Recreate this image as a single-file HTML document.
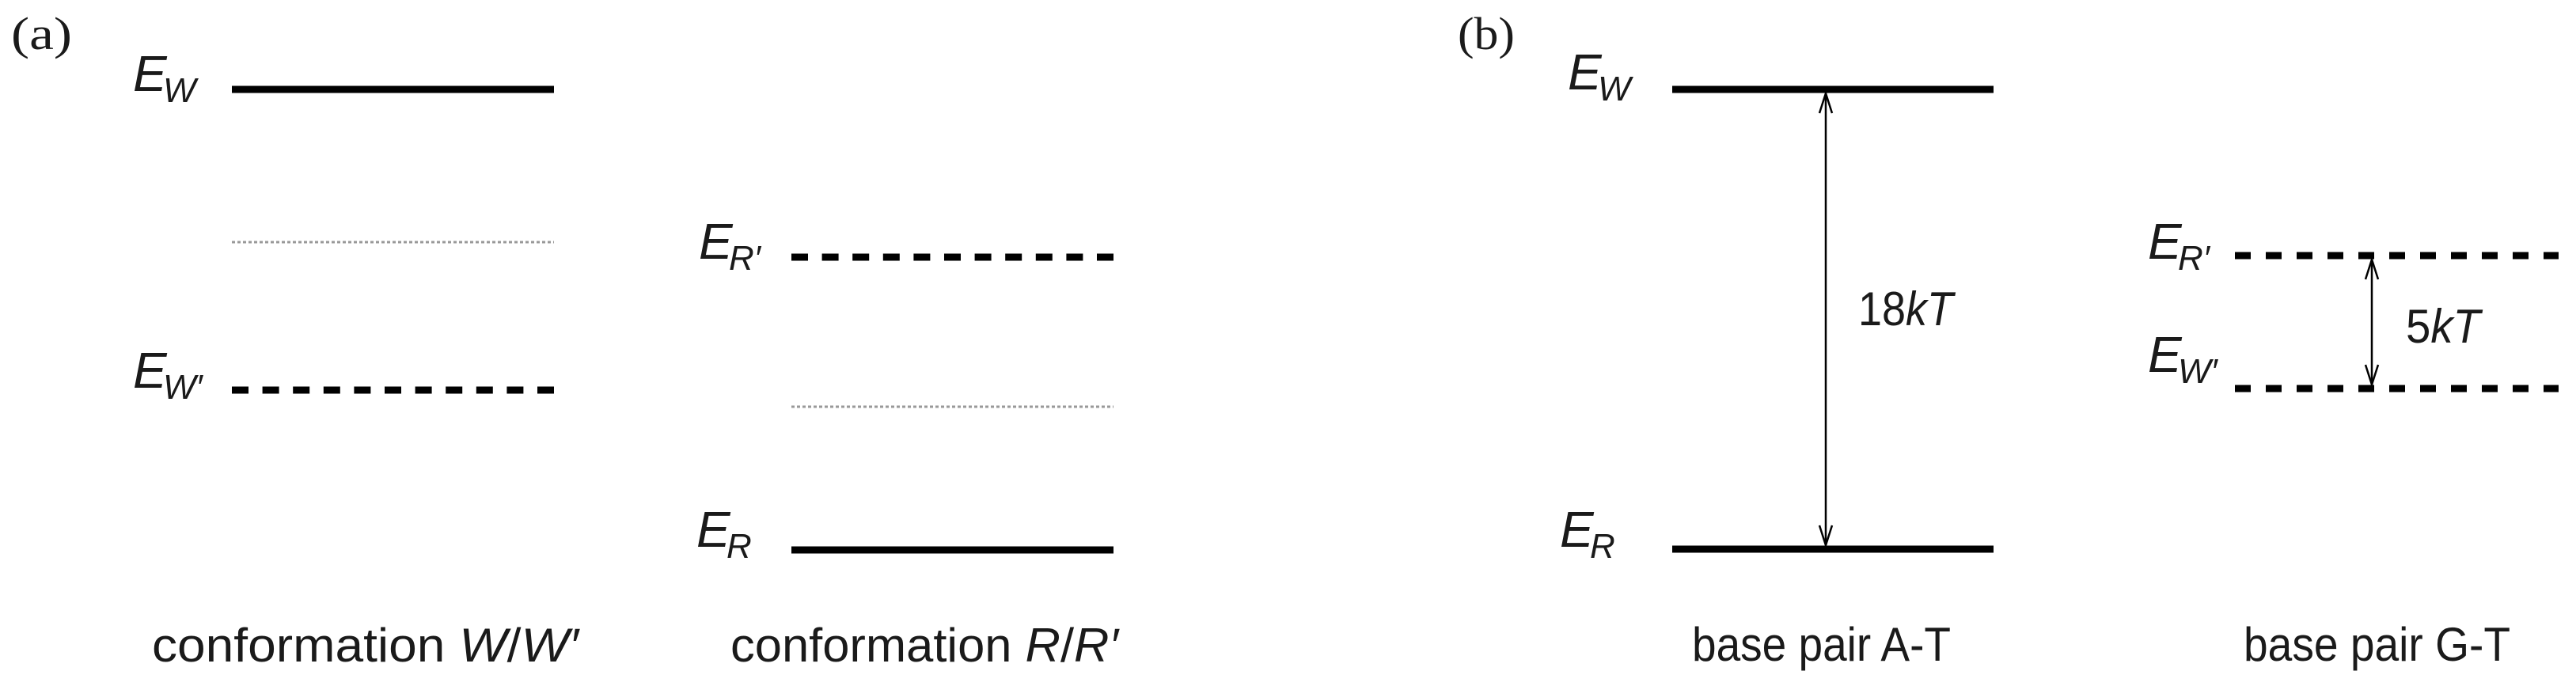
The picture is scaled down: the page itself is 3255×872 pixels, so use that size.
<!DOCTYPE html>
<html><head><meta charset="utf-8"><style>
html,body{margin:0;padding:0;background:#fff;}
svg{display:block;}
text{font-family:"Liberation Sans",sans-serif;fill:#1a1a1a;}
.it{font-style:italic;}
.ser{font-family:"Liberation Serif",serif;}
</style></head><body>
<svg width="3255" height="872" viewBox="0 0 3255 872" xmlns="http://www.w3.org/2000/svg">
<!-- panel labels -->
<text class="ser" x="14" y="62" font-size="58" textLength="77" lengthAdjust="spacingAndGlyphs">(a)</text>
<text class="ser" x="1842" y="62" font-size="58" textLength="72" lengthAdjust="spacingAndGlyphs">(b)</text>

<!-- (a) left -->
<text class="it" x="168" y="115" font-size="64">E</text><text class="it" x="206" y="129" font-size="44">W</text>
<line x1="293" y1="113" x2="700" y2="113" stroke="#000" stroke-width="9"/>
<line x1="293" y1="306" x2="700" y2="306" stroke="#999" stroke-width="3" stroke-dasharray="4 3"/>
<text class="it" x="168" y="490" font-size="64">E</text><text class="it" x="206" y="504" font-size="44">W′</text>
<line x1="293" y1="493" x2="700" y2="493" stroke="#000" stroke-width="9" stroke-dasharray="21 17.6"/>

<!-- (a) right -->
<text class="it" x="883" y="327" font-size="64">E</text><text class="it" x="921" y="341" font-size="44">R′</text>
<line x1="1000" y1="325" x2="1407" y2="325" stroke="#000" stroke-width="9" stroke-dasharray="21 17.6"/>
<line x1="1000" y1="514" x2="1407" y2="514" stroke="#999" stroke-width="3" stroke-dasharray="4 3"/>
<text class="it" x="880" y="691" font-size="64">E</text><text class="it" x="918" y="705" font-size="44">R</text>
<line x1="1000" y1="695" x2="1407" y2="695" stroke="#000" stroke-width="9"/>

<text x="192" y="836" font-size="60" textLength="539" lengthAdjust="spacingAndGlyphs">conformation <tspan class="it">W</tspan>/<tspan class="it">W′</tspan></text>
<text x="923" y="836" font-size="60" textLength="490" lengthAdjust="spacingAndGlyphs">conformation <tspan class="it">R</tspan>/<tspan class="it">R′</tspan></text>

<!-- (b) left -->
<text class="it" x="1981" y="113" font-size="64">E</text><text class="it" x="2019" y="127" font-size="44">W</text>
<line x1="2113" y1="113" x2="2519" y2="113" stroke="#000" stroke-width="9"/>
<text class="it" x="1971" y="691" font-size="64">E</text><text class="it" x="2009" y="705" font-size="44">R</text>
<line x1="2113" y1="694" x2="2519" y2="694" stroke="#000" stroke-width="9"/>
<line x1="2307" y1="118" x2="2307" y2="689" stroke="#000" stroke-width="2.5"/>
<polyline points="2299,143 2307,118 2315,143" fill="none" stroke="#000" stroke-width="2.5"/>
<polyline points="2299,664 2307,689 2315,664" fill="none" stroke="#000" stroke-width="2.5"/>
<text x="2348" y="411" font-size="60" textLength="120" lengthAdjust="spacingAndGlyphs">18<tspan class="it">kT</tspan></text>

<!-- (b) right -->
<text class="it" x="2714" y="327" font-size="64">E</text><text class="it" x="2752" y="341" font-size="44">R′</text>
<line x1="2824" y1="323" x2="3233" y2="323" stroke="#000" stroke-width="9" stroke-dasharray="20 19"/>
<text class="it" x="2714" y="470" font-size="64">E</text><text class="it" x="2752" y="484" font-size="44">W′</text>
<line x1="2824" y1="491" x2="3233" y2="491" stroke="#000" stroke-width="9" stroke-dasharray="20 19"/>
<line x1="2997" y1="328" x2="2997" y2="486" stroke="#000" stroke-width="2.5"/>
<polyline points="2989,353 2997,328 3005,353" fill="none" stroke="#000" stroke-width="2.5"/>
<polyline points="2989,461 2997,486 3005,461" fill="none" stroke="#000" stroke-width="2.5"/>
<text x="3040" y="433" font-size="60" textLength="94" lengthAdjust="spacingAndGlyphs">5<tspan class="it">kT</tspan></text>

<text x="2138" y="835" font-size="60" textLength="327" lengthAdjust="spacingAndGlyphs">base pair A-T</text>
<text x="2835" y="835" font-size="60" textLength="337" lengthAdjust="spacingAndGlyphs">base pair G-T</text>
</svg>
</body></html>
